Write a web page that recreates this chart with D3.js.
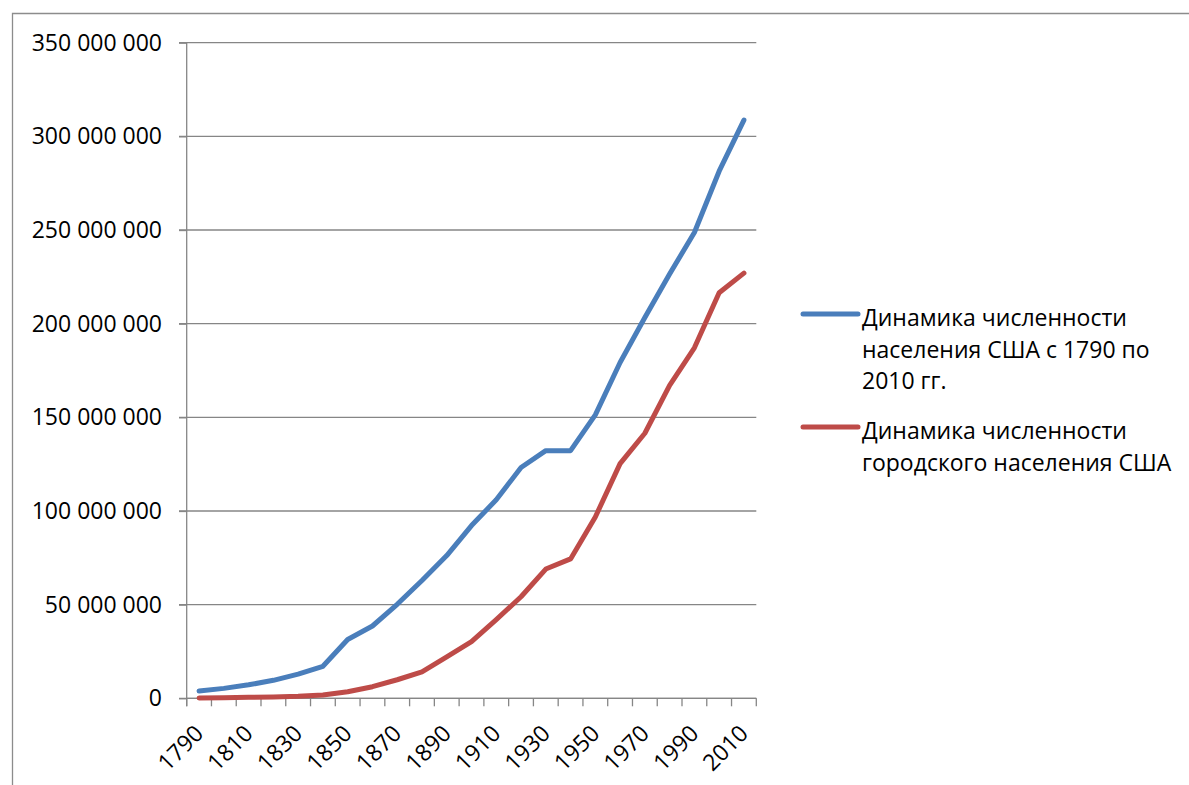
<!DOCTYPE html>
<html lang="ru">
<head>
	<meta charset="utf-8">
	<title>Динамика численности населения США</title>
	<script src="https://d3js.org/d3.v7.min.js"></script>
	<style>
		body { margin: 0; background: #fff; }
		svg text { font-family: "Open Sans", "Noto Sans", sans-serif; fill: #000; }
	</style>
</head>
<body>
	<script>
		// categories (census years)
		var years = ["1790","1800","1810","1820","1830","1840","1850","1860","1870","1880","1890","1900",
			"1910","1920","1930","1940","1950","1960","1970","1980","1990","2000","2010"];

		// total population, millions
		var totalPop = [3.9, 5.3, 7.2, 9.6, 12.9, 17.1, 31.4, 38.6, 50.2, 62.9, 76.2, 92.2,
			106.0, 123.2, 132.2, 132.2, 151.3, 179.3, 203.3, 226.5, 248.7, 281.4, 308.7];

		// urban population, millions
		var urbanPop = [0.2, 0.3, 0.5, 0.7, 1.1, 1.8, 3.5, 6.2, 9.9, 14.1, 22.1, 30.2,
			42.0, 54.2, 69.0, 74.4, 96.8, 125.3, 141.5, 167.1, 187.1, 216.5, 227.0];

		var yTicks = [0, 50e6, 100e6, 150e6, 200e6, 250e6, 300e6, 350e6];
		var xLabels = ["1790","1810","1830","1850","1870","1890","1910","1930","1950","1970","1990","2010"];

		var seriesNames = [
			["Динамика численности", "населения США с 1790 по", "2010 гг."],
			["Динамика численности", "городского населения США"]
		];

		var width = 1189, height = 785;
		var plotLeft = 186.7, plotRight = 756.3, plotTop = 42.7, plotBottom = 698.3;

		var svg = d3.select("body").append("svg")
			.attr("width", width)
			.attr("height", height);

		// chart frame (only left and top edges show)
		svg.append("path")
			.attr("d", "M12.5," + height + "V13.5H" + width)
			.attr("fill", "none")
			.attr("stroke", "#8c8c8c")
			.attr("stroke-width", 1.3);

		var x = d3.scaleBand().domain(years).range([plotLeft, plotRight]);
		var y = d3.scaleLinear().domain([0, 350e6]).range([plotBottom, plotTop]);

		var fmt = function(d) { return d3.format(",")(d).replace(/,/g, " "); };

		// gridlines
		svg.append("g").selectAll("line")
			.data(yTicks)
			.enter().append("line")
			.attr("x1", plotLeft - 7.7)
			.attr("x2", plotRight)
			.attr("y1", function(d) { return y(d); })
			.attr("y2", function(d) { return y(d); })
			.attr("stroke", "#868686")
			.attr("stroke-width", 1.3);

		// y axis
		var yAxis = svg.append("g")
			.attr("transform", "translate(" + plotLeft + ",0)")
			.call(d3.axisLeft(y).tickValues(yTicks).tickFormat(fmt).tickSize(7.7).tickPadding(17));
		yAxis.select(".domain").remove();
		yAxis.selectAll("line").attr("stroke", "#868686").attr("stroke-width", 1.3);
		yAxis.selectAll("text").attr("font-size", 23).attr("font-family", "'Open Sans', sans-serif").attr("fill", "#000");

		svg.append("line")
			.attr("x1", plotLeft).attr("x2", plotLeft)
			.attr("y1", plotTop).attr("y2", plotBottom + 8)
			.attr("stroke", "#868686").attr("stroke-width", 1.3);

		// x axis line and ticks at category boundaries
		svg.append("line")
			.attr("x1", plotLeft).attr("x2", plotRight)
			.attr("y1", plotBottom).attr("y2", plotBottom)
			.attr("stroke", "#868686").attr("stroke-width", 1.3);

		var bounds = years.map(function(d) { return x(d); }).concat([x(years[years.length - 1]) + x.bandwidth()]);
		svg.append("g").selectAll("line")
			.data(bounds)
			.enter().append("line")
			.attr("x1", function(d) { return d; })
			.attr("x2", function(d) { return d; })
			.attr("y1", plotBottom)
			.attr("y2", plotBottom + 8)
			.attr("stroke", "#868686")
			.attr("stroke-width", 1.3);

		svg.append("g").selectAll("text")
			.data(xLabels)
			.enter().append("text")
			.attr("transform", function(d) {
				return "translate(" + (x(d) + x.bandwidth() / 2) + "," + (plotBottom + 31) + ") rotate(-45)";
			})
			.attr("text-anchor", "end")
			.attr("dy", "0.35em")
			.attr("font-size", 23)
			.text(function(d) { return d; });

		// lines
		var line = d3.line()
			.x(function(d, i) { return x(years[i]) + x.bandwidth() / 2; })
			.y(function(d) { return y(d * 1e6); });

		var colors = ["#4a7ebb", "#be4b48"];
		[totalPop, urbanPop].forEach(function(s, i) {
			svg.append("path")
				.datum(s)
				.attr("fill", "none")
				.attr("stroke", colors[i])
				.attr("stroke-width", 5)
				.attr("stroke-linejoin", "round")
				.attr("stroke-linecap", "round")
				.attr("d", line);
		});

		// legend
		var legendY = [314, 427];
		var legend = svg.append("g");
		seriesNames.forEach(function(lines, i) {
			legend.append("line")
				.attr("x1", 803).attr("x2", 858)
				.attr("y1", legendY[i]).attr("y2", legendY[i])
				.attr("stroke", colors[i])
				.attr("stroke-width", 5)
				.attr("stroke-linecap", "round");
			var t = legend.append("text")
				.attr("x", 862)
				.attr("y", legendY[i] + 12)
				.attr("font-size", 23);
			lines.forEach(function(l, j) {
				t.append("tspan")
					.attr("x", 862)
					.attr("dy", j === 0 ? 0 : 31.5)
					.text(l);
			});
		});
	</script>
</body>
</html>
